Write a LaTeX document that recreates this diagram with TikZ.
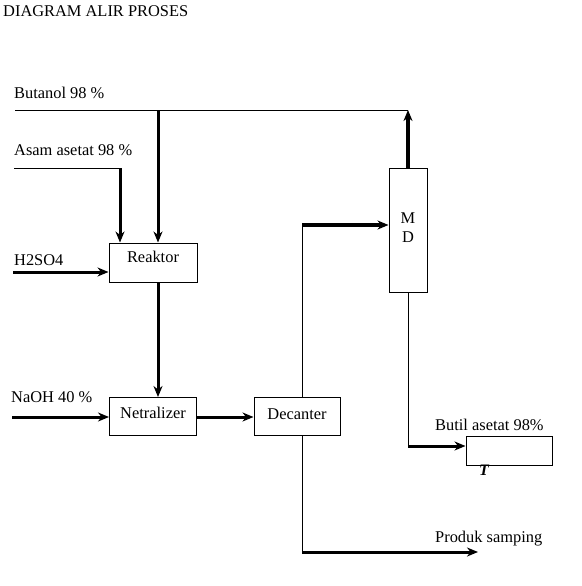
\documentclass[tikz,border=0pt]{standalone}
\usepackage{fontspec}
\setmainfont{Liberation Serif}
\usetikzlibrary{arrows.meta}
\begin{document}
\begin{tikzpicture}[x=1pt,y=-1pt,
  every node/.style={font=\fontsize{16.4}{19}\selectfont, inner sep=0pt},
  box/.style={draw, line width=1pt, inner sep=0pt},
  lbl/.style={anchor=base west},
  thin line/.style={line width=1pt},
  thick line/.style={line width=3pt},
  heavy line/.style={line width=4pt},
  tip/.style={-{Stealth[length=11pt,width=9pt,inset=3.5pt]}}
]
\useasboundingbox (0,0) rectangle (581,586);

% boxes
\node[box, minimum width=88pt, text height=19pt, text depth=20pt] (reaktor) at (153,262.5) {Reaktor};
\node[box, minimum width=87pt, text height=20.5pt, text depth=17.5pt] (netr) at (153,416.5) {Netralizer};
\node[box, minimum width=86pt, text height=21.5pt, text depth=16.5pt] (dec) at (297,416.5) {Decanter};
\node[box, minimum width=38pt, minimum height=124pt] (md) at (408,230) {};
\node[box, minimum width=86pt, minimum height=29pt] (butil) at (509,450.5) {};

% texts
\node[lbl] (title) at (3,17) {DIAGRAM ALIR PROSES};
\node[lbl] (lbut) at (14,99) {Butanol 98 \%};
\node[lbl] (lasam) at (14,155) {Asam asetat 98 \%};
\node[lbl] (lh2) at (14,265) {H2SO4};
\node[lbl] (lnaoh) at (11,402) {NaOH 40 \%};
\node[lbl] (lbutil) at (435,430) {Butil asetat 98\%};
\node[lbl] (lprod) at (435,542) {Produk samping};
\node[anchor=base] (mdm) at (408,223) {M};
\node[anchor=base] (mdd) at (408,242) {D};
\node[anchor=base, font=\fontsize{16}{19}\selectfont\bfseries\itshape] (tt) at (484,475) {T};

% coordinates
\coordinate (bstart) at (15,110);
\coordinate (bend) at (408,110);
\coordinate (bj) at (158,110);
\coordinate (asstart) at (14,168);
\coordinate (ascorner) at (120,168);
\coordinate (hstart) at (13,272);
\coordinate (nstart) at (12,417);
\coordinate (dcorner) at (302,225);
\coordinate (mcorner) at (408,446);
\coordinate (pcorner) at (302,552);
\coordinate (pend) at (478,552);

% Butanol
\draw[thin line] (bstart) -- (bend);
\draw[thick line, tip] (bj) -- (bj |- reaktor.north);
% Asam asetat
\draw[thin line] (asstart) -- (ascorner);
\draw[thick line, tip] (ascorner) -- (ascorner |- reaktor.north);
% H2SO4
\draw[thick line, tip] (hstart) -- (hstart -| reaktor.west);
% Reaktor -> Netralizer
\draw[thick line, tip] (reaktor.south -| bj) -- (netr.north -| bj);
% NaOH
\draw[thick line, tip] (nstart) -- (nstart -| netr.west);
% Netralizer -> Decanter
\draw[thick line, tip] (nstart -| netr.east) -- (nstart -| dec.west);
% Decanter -> MD
\draw[thin line] (dec.north -| dcorner) -- (dcorner);
\draw[heavy line, tip] (dcorner) -- (dcorner -| md.west);
% MD top
\draw[heavy line, tip] (md.north) -- (bend);
% MD bottom -> Butil asetat
\draw[thin line] (md.south) -- (mcorner);
\draw[thick line, tip] (mcorner) -- (mcorner -| butil.west);
% Decanter -> Produk samping
\draw[thin line] (dec.south -| pcorner) -- (pcorner);
\draw[thick line, tip] (pcorner) -- (pend);
\end{tikzpicture}
\end{document}
